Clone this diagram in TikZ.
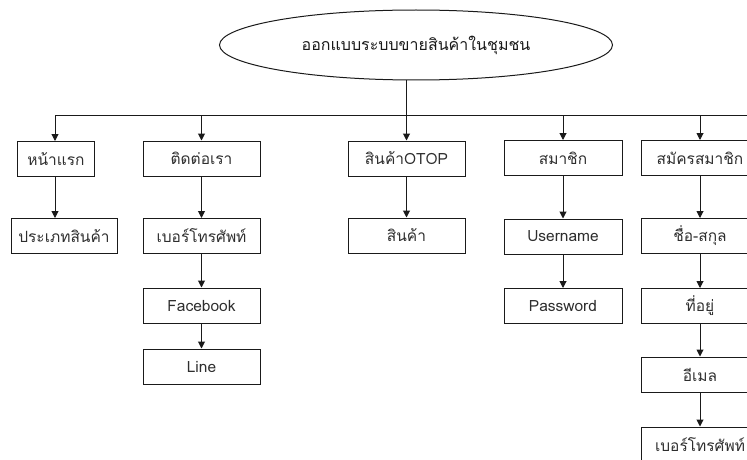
\documentclass[tikz,border=0pt]{standalone}
\usepackage{fontspec}
\setmainfont[Script=Thai]{Loma}
\usetikzlibrary{arrows.meta,shapes.geometric}
\definecolor{ink}{HTML}{1A1A1A}
\definecolor{txt}{HTML}{2E2E2E}
\begin{document}
\begin{tikzpicture}[x=1pt,y=-1pt,
  every node/.style={font=\fontsize{15.5}{18}\selectfont, text=txt},
  box/.style={draw=ink, line width=1pt, minimum height=35pt, inner sep=0pt, anchor=center},
  col/.style={box, minimum width=117pt},
  wcol/.style={box, minimum width=118pt},
  link/.style={draw=ink, line width=1pt},
  arr/.style={link, -{Triangle[width=7pt,length=7pt]}}]
\useasboundingbox (0,0) rectangle (747,460);
\begin{scope}
\clip (0,0) rectangle (747,460);

% title
\node[draw=ink, line width=1pt, ellipse, minimum width=393pt, minimum height=70pt, inner sep=0pt, text=ink, font=\fontsize{16}{19}\selectfont] (top) at (416,45) {ออกแบบระบบขายสินค้าในชุมชน};

% first level
\node[box, minimum width=77pt] (n1) at (56,159) {หน้าแรก};
\node[col] (n2) at (201.5,158.5) {ติดต่อเรา};
\node[col] (n3) at (406.5,158.5) {สินค้าOTOP};
\node[wcol] (n4) at (563,158) {สมาชิก};
\node[wcol] (n5) at (700,158) {สมัครสมาชิก};

% second level and below
\node[box, minimum width=106pt] (n1a) at (64,236) {ประเภทสินค้า};

\node[col] (n2a) at (201.5,236) {เบอร์โทรศัพท์};
\node[col] (n2b) at (201.5,305.5) {Facebook};
\node[col] (n2c) at (201.5,366.5) {Line};

\node[col] (n3a) at (406.5,235.5) {สินค้า};

\node[wcol] (n4a) at (563,236.5) {Username};
\node[wcol] (n4b) at (563,306) {Password};

\node[wcol] (n5a) at (700,236) {ชื่อ-สกุล};
\node[wcol] (n5b) at (700,306) {ที่อยู่};
\node[wcol] (n5c) at (700,374.5) {อีเมล};
\node[wcol] (n5d) at (700,444.5) {เบอร์โทรศัพท์};

% distribution bus
\coordinate (busL) at (55,115);
\coordinate (busR) at (747,115);
\draw[link] (busL) -- (busR);
\draw[arr] (n3.north |- top.south) -- (n3.north);
\draw[arr] (busL) -- (busL |- n1.north);
\draw[arr] (n2.north |- busL) -- (n2.north);
\draw[arr] (n4.north |- busL) -- (n4.north);
\draw[arr] (n5.north |- busL) -- (n5.north);

% chains
\draw[arr] (busL |- n1.south) -- (busL |- n1a.north);
\draw[arr] (n2.south) -- (n2a.north);
\draw[arr] (n2a.south) -- (n2b.north);
\draw[arr] (n2b.south) -- (n2c.north);
\draw[arr] (n3.south) -- (n3a.north);
\draw[arr] (n4.south) -- (n4a.north);
\draw[arr] (n4a.south) -- (n4b.north);
\draw[arr] (n5.south) -- (n5a.north);
\draw[arr] (n5a.south) -- (n5b.north);
\draw[arr] (n5b.south) -- (n5c.north);
\draw[arr] (n5c.south) -- (n5d.north);
\end{scope}
\end{tikzpicture}
\end{document}
